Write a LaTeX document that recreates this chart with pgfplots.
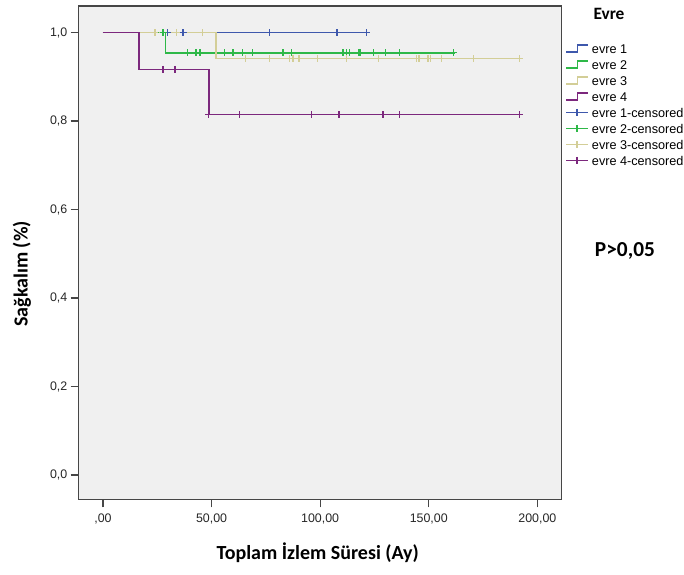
\documentclass[border=0pt]{standalone}
\usepackage{pgfplots}
\pgfplotsset{compat=1.18}
\usepackage{fontspec}
\setmainfont{Liberation Sans}
\newfontfamily\calibri{Carlito}
\definecolor{c1}{RGB}{62,88,172}
\definecolor{c2}{RGB}{46,184,72}
\definecolor{c3}{RGB}{211,206,151}
\definecolor{c4}{RGB}{124,40,125}
\definecolor{bgc}{RGB}{240,240,240}
\definecolor{framec}{RGB}{70,70,70}
\pgfplotsset{
  stepicon/.style={legend image code/.code={\draw[##1] (0pt,-1.5pt) -- (8.5pt,-1.5pt) -- (8.5pt,3.5pt) -- (16.5pt,3.5pt);}},
  censicon/.style={legend image code/.code={\draw[##1,mark=none] (0pt,1pt) -- (16.5pt,1pt); \draw[##1] plot coordinates {(8.25pt,1pt)};}},
}
\begin{document}
\begin{tikzpicture}
\useasboundingbox (-59pt,-56pt) rectangle (454pt,374.5pt);
\begin{axis}[
  at={(0pt,0pt)}, anchor=south west,
  scale only axis, width=362.25pt, height=370pt,
  xmin=-11.2, xmax=211.2, ymin=-0.055, ymax=1.06,
  clip=false,
  axis background/.style={fill=bgc},
  axis line style={draw=framec, line width=1pt},
  xtick={0,50,100,150,200},
  xticklabels={{,00},{50,00},{100,00},{150,00},{200,00}},
  ytick={0,0.2,0.4,0.6,0.8,1.0},
  yticklabels={{0,0},{0,2},{0,4},{0,6},{0,8},{1,0}},
  xtick pos=left, ytick pos=left,
  tick align=outside, major tick length=6pt,
  tick style={draw=framec, line width=0.8pt},
  tick label style={font=\fontsize{9.3}{11}\selectfont, text=black!85},
  xticklabel style={yshift=-1pt},
  yticklabel style={xshift=1pt},
  xlabel={\calibri\bfseries Toplam İzlem Süresi (Ay)},
  xlabel style={at={(rel axis cs:0.495,0)}, anchor=center, yshift=-40pt, font=\fontsize{15}{18}\selectfont},
  ylabel={\calibri\bfseries Sağkalım (\%)},
  ylabel style={at={(rel axis cs:0,0.457)}, anchor=center, yshift=42.5pt, font=\fontsize{15}{18}\selectfont},
  legend style={at={(rel axis cs:1.0068,0.924)}, anchor=north west, draw=none, fill=none,
    inner sep=0pt, font=\fontsize{9.5}{11}\selectfont, row sep=3pt, column sep=2.25pt,
    nodes={inner sep=0pt, text height=7pt, text depth=2pt}},
  legend cell align=left,
]
% Kaplan-Meier step curves
\addplot[c1, line width=1.3pt, stepicon] coordinates {(0,1) (121.2,1)};
\addlegendentry{evre 1}
\addplot[c2, line width=1.3pt, stepicon] coordinates {(0,1) (28.8,1) (28.8,0.9545) (162,0.9545)};
\addlegendentry{evre 2}
\addplot[c3, line width=1.3pt, stepicon] coordinates {(0,1) (52,1) (52,0.9412) (192,0.9412)};
\addlegendentry{evre 3}
\addplot[c4, line width=1.3pt, stepicon] coordinates {(0,1) (16.7,1) (16.7,0.9167) (48.7,0.9167) (48.7,0.8148) (192,0.8148)};
\addlegendentry{evre 4}
% censored marks
\addplot[c1, only marks, mark=+, mark size=2.6pt, line width=1pt, censicon] coordinates {
 (29.6,1) (36.9,1) (76.8,1) (107.7,1) (121.2,1)};
\addlegendentry{evre 1-censored}
\addplot[c2, only marks, mark=+, mark size=2.6pt, line width=1pt, censicon] coordinates {
 (24,1) (27.7,1) (38.8,0.9545) (42.8,0.9545) (44.6,0.9545) (56.1,0.9545) (59.9,0.9545)
 (64.1,0.9545) (68.8,0.9545) (82.9,0.9545) (86.8,0.9545) (110.5,0.9545) (112,0.9545)
 (113.6,0.9545) (117.9,0.9545) (118.6,0.9545) (124.6,0.9545) (130,0.9545) (136.6,0.9545) (161.5,0.9545)};
\addlegendentry{evre 2-censored}
\addplot[c3, only marks, mark=+, mark size=2.6pt, line width=1pt, censicon] coordinates {
 (23.9,1) (33.9,1) (45.7,1) (65.6,0.9412) (76.8,0.9412) (86,0.9412) (87.5,0.9412) (90.3,0.9412)
 (98.7,0.9412) (112,0.9412) (126.9,0.9412) (144.5,0.9412) (145.5,0.9412) (149.6,0.9412)
 (150.7,0.9412) (156,0.9412) (170.6,0.9412) (191.7,0.9412)};
\addlegendentry{evre 3-censored}
\addplot[c4, only marks, mark=+, mark size=2.6pt, line width=1pt, censicon] coordinates {
 (27.7,0.9167) (33.1,0.9167) (48.7,0.8148) (63,0.8148) (96,0.8148) (108.7,0.8148)
 (128.9,0.8148) (136.6,0.8148) (191.7,0.8148)};
\addlegendentry{evre 4-censored}
\node[font=\calibri\bfseries\fontsize{13}{15}\selectfont, anchor=center] at (rel axis cs:1.098,0.984) {Evre};
\node[font=\calibri\bfseries\fontsize{16}{19}\selectfont, anchor=center] at (rel axis cs:1.131,0.503) {P>0,05};
\end{axis}
\end{tikzpicture}
\end{document}
